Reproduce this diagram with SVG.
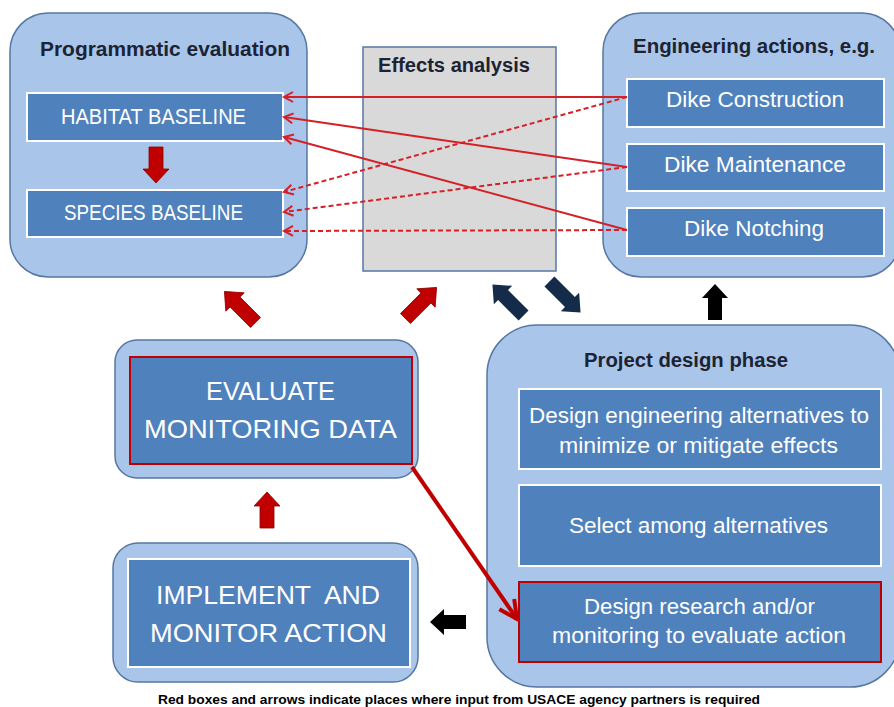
<svg xmlns="http://www.w3.org/2000/svg" width="894" height="707" viewBox="0 0 894 707">
<defs>
<style>
.outer{fill:#a9c5ea;stroke:#5676a3;stroke-width:1.5}
.inner{fill:#4f81bd;stroke:#ffffff;stroke-width:2}
.innerred{fill:#4f81bd;stroke:#c00000;stroke-width:2}
.title{font-family:"Liberation Sans",Arial,sans-serif;font-weight:bold;fill:#1c2333;font-size:20px}
.wt{font-family:"Liberation Sans",Arial,sans-serif;fill:#ffffff;font-size:22px;text-anchor:start}
.big{font-family:"Liberation Sans",Arial,sans-serif;fill:#ffffff;font-size:26px}
.ln{stroke:#d42027;stroke-width:2;fill:none;marker-end:url(#oh)}
.dash{stroke-dasharray:5 3}
.redblk{fill:#c00000;stroke:#8a0000;stroke-width:0.8}
.navy{fill:#142b4a}
.blk{fill:#000000}
</style>
<marker id="oh" markerUnits="userSpaceOnUse" markerWidth="12" markerHeight="12" refX="10" refY="6" orient="auto" overflow="visible">
<path d="M1,1 L10,6 L1,11" fill="none" stroke="#d42027" stroke-width="2"/>
</marker>
<marker id="ohbig" markerUnits="userSpaceOnUse" markerWidth="24" markerHeight="24" refX="20" refY="12" orient="auto" overflow="visible">
<path d="M2,3 L20,12 L2,21" fill="none" stroke="#c00000" stroke-width="4"/>
</marker>
<path id="ba" d="M0,-18 L13,-4 L7,-4 L7,18 L-7,18 L-7,-4 L-13,-4 Z"/>
<path id="bad" d="M0,-22 L13,-7 L7,-7 L7,22 L-7,22 L-7,-7 L-13,-7 Z"/>
</defs>

<g id="programmatic-evaluation">
<rect class="outer" x="10" y="13" width="297" height="264" rx="38"/>
<text class="title" x="40" y="56" textLength="250" lengthAdjust="spacingAndGlyphs">Programmatic evaluation</text>
</g>
<g id="habitat-baseline">
<rect class="inner" x="27" y="93" width="256" height="48"/>
<text class="wt" x="61" y="124" textLength="185" lengthAdjust="spacingAndGlyphs">HABITAT BASELINE</text>
</g>
<g id="species-baseline">
<rect class="inner" x="27" y="190" width="256" height="47"/>
<text class="wt" x="64" y="220" textLength="179" lengthAdjust="spacingAndGlyphs">SPECIES BASELINE</text>
</g>

<g id="effects-analysis">
<rect x="363" y="47" width="193" height="224" fill="#d9d9d9" stroke="#5676a3" stroke-width="1.5"/>
<text class="title" x="378" y="72" textLength="152" lengthAdjust="spacingAndGlyphs">Effects analysis</text>
</g>

<g id="engineering-actions">
<rect class="outer" x="603" y="13" width="297" height="264" rx="38"/>
<text class="title" x="633" y="53" textLength="242" lengthAdjust="spacingAndGlyphs">Engineering actions, e.g.</text>
</g>
<g id="dike-construction">
<rect class="inner" x="627" y="79" width="257" height="48"/>
<text class="wt" x="666" y="107" textLength="178" lengthAdjust="spacingAndGlyphs">Dike Construction</text>
</g>
<g id="dike-maintenance">
<rect class="inner" x="627" y="144" width="257" height="47"/>
<text class="wt" x="664" y="172" textLength="182" lengthAdjust="spacingAndGlyphs">Dike Maintenance</text>
</g>
<g id="dike-notching">
<rect class="inner" x="627" y="208" width="257" height="48"/>
<text class="wt" x="684" y="236" textLength="140" lengthAdjust="spacingAndGlyphs">Dike Notching</text>
</g>

<g id="evaluate-monitoring">
<rect class="outer" x="115" y="340" width="303" height="138" rx="22"/>
<rect class="innerred" x="130" y="357" width="282" height="107"/>
<text class="big" x="206" y="400" textLength="129" lengthAdjust="spacingAndGlyphs">EVALUATE</text>
<text class="big" x="144" y="438" textLength="253" lengthAdjust="spacingAndGlyphs">MONITORING DATA</text>
</g>

<g id="implement-monitor">
<rect class="outer" x="113" y="543" width="305" height="139" rx="25"/>
<rect class="inner" x="128" y="559" width="282" height="108"/>
<text class="big" x="156" y="604" textLength="224" lengthAdjust="spacingAndGlyphs" xml:space="preserve">IMPLEMENT  AND</text>
<text class="big" x="150" y="642" textLength="237" lengthAdjust="spacingAndGlyphs">MONITOR ACTION</text>
</g>

<g id="project-design-phase">
<rect class="outer" x="487" y="325" width="413" height="362" rx="50"/>
<text class="title" x="584" y="367" textLength="204" lengthAdjust="spacingAndGlyphs">Project design phase</text>
</g>
<g id="design-alternatives">
<rect class="inner" x="519" y="389" width="362" height="80"/>
<text class="wt" x="529" y="423" textLength="340" lengthAdjust="spacingAndGlyphs">Design engineering alternatives to</text>
<text class="wt" x="559" y="453" textLength="279" lengthAdjust="spacingAndGlyphs">minimize or mitigate effects</text>
</g>
<g id="select-alternatives">
<rect class="inner" x="519" y="485" width="362" height="81"/>
<text class="wt" x="569" y="533" textLength="259" lengthAdjust="spacingAndGlyphs">Select among alternatives</text>
</g>
<g id="design-research">
<rect class="innerred" x="519" y="582" width="362" height="80"/>
<text class="wt" x="584" y="614" textLength="231" lengthAdjust="spacingAndGlyphs">Design research and/or</text>
<text class="wt" x="552" y="643" textLength="294" lengthAdjust="spacingAndGlyphs">monitoring to evaluate action</text>
</g>

<g id="connectors">
<line class="ln" x1="627" y1="97" x2="284" y2="97"/>
<line class="ln" x1="627" y1="167" x2="284" y2="117"/>
<line class="ln" x1="627" y1="230" x2="284" y2="137"/>
<line class="ln dash" x1="627" y1="97" x2="284" y2="192"/>
<line class="ln dash" x1="627" y1="167" x2="284" y2="212"/>
<line class="ln dash" x1="627" y1="230" x2="284" y2="231"/>
<line x1="412" y1="467" x2="517" y2="619" stroke="#c00000" stroke-width="4" marker-end="url(#ohbig)"/>
<use href="#ba" class="redblk" transform="translate(156,165) rotate(180)"/>
<use href="#ba" class="redblk" transform="translate(267,510)"/>
<use href="#bad" class="redblk" transform="translate(240,307) rotate(-45)"/>
<use href="#bad" class="redblk" transform="translate(421,303) rotate(45)"/>
<use href="#bad" class="navy" transform="translate(508,300) rotate(-45)"/>
<use href="#bad" class="navy" transform="translate(565,297) rotate(135)"/>
<use href="#ba" class="blk" transform="translate(715,302)"/>
<use href="#ba" class="blk" transform="translate(448,622) rotate(-90)"/>
</g>

<text x="158" y="704" font-family="Liberation Sans,Arial,sans-serif" font-weight="bold" font-size="12" fill="#000" textLength="602" lengthAdjust="spacingAndGlyphs">Red boxes and arrows indicate places where input from USACE agency partners is required</text>
</svg>
